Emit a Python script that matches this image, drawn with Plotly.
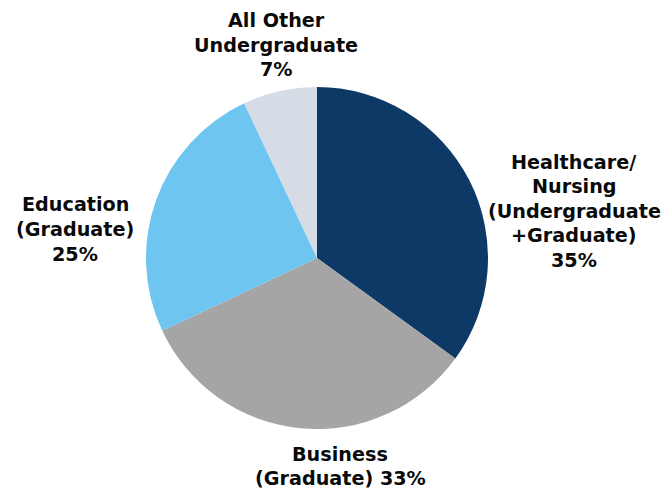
import plotly.graph_objects as go

categories = ["Healthcare/ Nursing (Undergraduate +Graduate)",
              "Business (Graduate)",
              "Education (Graduate)",
              "All Other Undergraduate"]
values = [35, 33, 25, 7]
pct_labels = ["35%", "33%", "25%", "7%"]
colors = ["#0e3866", "#a5a5a5", "#6ec6f0", "#d5dce6"]

# label lines as drawn on the chart
label_lines = [
    ["Healthcare/", "Nursing", "(Undergraduate", "+Graduate)", pct_labels[0]],
    ["Business", "(Graduate) " + pct_labels[1]],
    ["Education", "(Graduate)", pct_labels[2]],
    ["All Other", "Undergraduate", pct_labels[3]],
]
# label centre x and first-line y in page pixels, line step
label_anchor = [(574, 162), (340, 454), (75, 204), (276, 20)]
line_step = [24.5, 24.5, 25, 25]

W, H = 672, 492
OFF = 8  # page body margin


def px(x):
    return (x - OFF) / W


def py(y):
    return 1 - (y - OFF) / H


cx, cy, r = 317, 258, 171

fig = go.Figure(go.Pie(
    labels=categories, values=values, sort=False, direction="clockwise",
    rotation=0, marker=dict(colors=colors, line=dict(width=0)),
    textinfo="none", hoverinfo="label+percent", showlegend=False,
    domain=dict(x=[px(cx - r), px(cx + r)], y=[py(cy + r), py(cy - r)]),
))

for lines, (ax, ay), step in zip(label_lines, label_anchor, line_step):
    for i, t in enumerate(lines):
        fig.add_annotation(x=px(ax), y=py(ay + i * step), xref="paper", yref="paper",
                           text="<b>" + t + "</b>", showarrow=False,
                           xanchor="center", yanchor="middle",
                           font=dict(family="DejaVu Sans", size=19.2, color="#0a0a0a"))

fig.update_layout(width=W, height=H, margin=dict(l=0, r=0, t=0, b=0),
                  paper_bgcolor="white", plot_bgcolor="white")
fig.write_html("out.html")
